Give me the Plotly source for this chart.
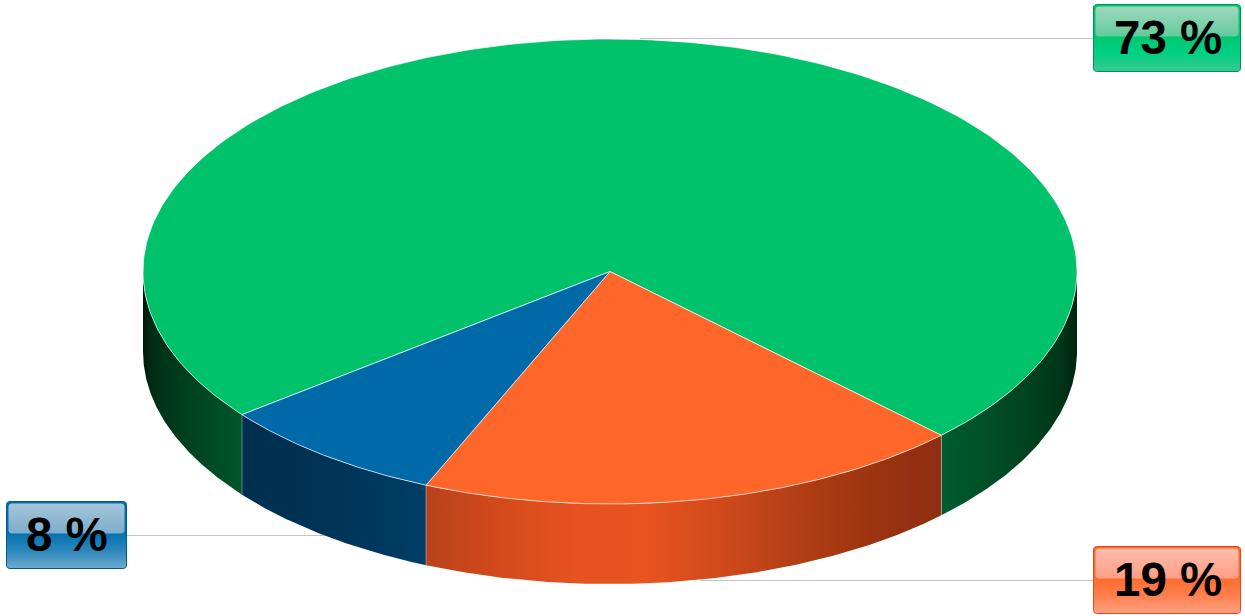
import numpy as np
import plotly.graph_objects as go

categories = ["Green", "Orange", "Blue"]
values = [73, 19, 8]
labels = ["73 %", "19 %", "8 %"]
top_colors = ["#00c26a", "#ff662a", "#0069a8"]

W, H = 1245, 616
CX, CY, RX, RY, DEPTH = 610, 271.5, 467, 232.5, 80
START = 44.8  # degrees clockwise from 3 o'clock where green ends

# wall gradients: (colour stops by position along the x range of the wall)
wall_stops = {
    "Green": {"left": ["#001a0b", "#002d14", "#003418", "#00391b", "#003e1e", "#004321",
                       "#004723", "#004b25", "#004f27", "#005229", "#00562b"],
              "right": ["#005d2f", "#00582c", "#00542a", "#005028", "#004c26", "#004824",
                        "#004421", "#003f1e", "#003a1b", "#003317", "#00220f"]},
    "Orange": ["#b8421a", "#d34a1c", "#e65220", "#e85320", "#d04a1c", "#b33f15", "#9e3410", "#8e2e12"],
    "Blue": ["#002f50", "#003254", "#00375c", "#003f66"],
}

badge = {
    "73 %": dict(x0=1093.5, x1=1240.5, y0=4.5, y1=71.5, edge="#00905a",
                 gloss=["#9ed9bd", "#62ca9d"], body=["#00c66c", "#00d184", "#3cc88f"]),
    "19 %": dict(x0=1093.5, x1=1240.5, y0=546.5, y1=613.5, edge="#e0491c",
                 gloss=["#ffbcaa", "#ff9f85"], body=["#ff6a2c", "#ff7e4c", "#ffa183"]),
    "8 %": dict(x0=6.5, x1=126.5, y0=501.5, y1=568.5, edge="#00588f",
                gloss=["#a6c5da", "#7eaccb"], body=["#0070ad", "#2a86bb", "#6fa9cd"]),
}
leaders = [(640, 1093, 38.5), (700, 1093, 580.5), (127, 340, 535.5)]


def pt(a, dy=0.0):
    r = np.radians(a)
    return CX + RX * np.cos(r), CY + RY * np.sin(r) + dy


def scale(cols):
    return [[i / (len(cols) - 1), c] for i, c in enumerate(cols)]


fig = go.Figure()


def wall(a0, a1, stops):
    a = np.linspace(a0, a1, 120)
    xt, yt = pt(a)
    xb, yb = pt(a[::-1], DEPTH)
    x = np.r_[xt, xb, xt[0]]
    y = np.r_[yt, yb, yt[0]]
    fig.add_trace(go.Scatter(
        x=x, y=y, mode="lines", fill="toself", hoverinfo="skip", showlegend=False,
        line=dict(color="rgba(0,0,0,0)", width=0),
        fillgradient=dict(type="horizontal", colorscale=scale(stops),
                          start=float(x.min()), stop=float(x.max())),
    ))


# slice angle ranges, clockwise from START: orange, blue, then green
order = [1, 2, 0]
ang = START
ranges = {}
for i in order:
    span = values[i] / sum(values) * 360
    ranges[categories[i]] = (ang, ang + span)
    ang += span

g0, g1 = ranges["Green"]
wall(g0, 180, wall_stops["Green"]["left"])
wall(0, START, wall_stops["Green"]["right"])
wall(*ranges["Blue"], wall_stops["Blue"])
wall(*ranges["Orange"], wall_stops["Orange"])

# thin light seams on the wall edges
for a in [START, ranges["Orange"][1], ranges["Blue"][1]]:
    x, y = pt(a)
    fig.add_trace(go.Scatter(x=[x, x], y=[y, y + DEPTH], mode="lines", hoverinfo="skip", showlegend=False,
                             line=dict(color="rgba(255,255,255,0.35)", width=1)))

for i in [0, 1, 2]:
    a0, a1 = ranges[categories[i]]
    a = np.linspace(a0, a1, 240)
    xt, yt = pt(a)
    fig.add_trace(go.Scatter(
        x=np.r_[CX, xt, CX], y=np.r_[CY, yt, CY], mode="lines", fill="toself",
        fillcolor=top_colors[i], hoverinfo="skip", showlegend=False,
        line=dict(color="rgba(255,255,255,0.65)", width=1),
    ))


def rrect(x0, x1, y0, y1, r):
    t = np.linspace(0, np.pi / 2, 8)
    xs = np.r_[x1 - r + r * np.sin(t), x1 - r + r * np.cos(t), x0 + r - r * np.sin(t), x0 + r - r * np.cos(t)]
    ys = np.r_[y0 + r - r * np.cos(t), y1 - r + r * np.sin(t), y1 - r + r * np.cos(t), y0 + r - r * np.sin(t)]
    return np.r_[xs, xs[0]], np.r_[ys, ys[0]]


for lab in labels:
    b = badge[lab]
    x, y = rrect(b["x0"], b["x1"], b["y0"], b["y1"], 3)
    fig.add_trace(go.Scatter(
        x=x, y=y, mode="lines", fill="toself", hoverinfo="skip", showlegend=False,
        line=dict(color=b["edge"], width=1),
        fillgradient=dict(type="vertical", colorscale=scale(b["body"]),
                          start=b["y0"] + 30, stop=b["y1"]),
    ))
    # glossy upper band
    x, y = rrect(b["x0"] + 2, b["x1"] - 2, b["y0"] + 2, b["y0"] + 32, 3)
    fig.add_trace(go.Scatter(
        x=x, y=y, mode="lines", fill="toself", hoverinfo="skip", showlegend=False,
        line=dict(color="rgba(0,0,0,0)", width=0),
        fillgradient=dict(type="vertical", colorscale=scale(b["gloss"]),
                          start=b["y0"] + 2, stop=b["y0"] + 32),
    ))
    fig.add_annotation(x=(b["x0"] + b["x1"]) / 2 + 0.5, y=(b["y0"] + b["y1"]) / 2 - 0.5, text=f"<b>{lab}</b>",
                       showarrow=False, xref="x", yref="y", xanchor="center", yanchor="middle",
                       font=dict(family="Liberation Sans", size=47.5, color="#000000"))

for x0, x1, y in leaders:
    fig.add_shape(type="line", x0=x0, x1=x1, y0=y, y1=y, layer="below",
                  line=dict(color="#c4c4c4", width=1))

fig.update_layout(
    width=W, height=H, margin=dict(l=0, r=0, t=0, b=0),
    paper_bgcolor="#ffffff", plot_bgcolor="#ffffff", showlegend=False,
    xaxis=dict(range=[0, W], visible=False, fixedrange=True),
    yaxis=dict(range=[H, 0], visible=False, fixedrange=True),
)
fig.write_html("out.html", config={"displayModeBar": False},
               post_script="document.body.style.margin='0';document.documentElement.style.overflow='hidden';")
